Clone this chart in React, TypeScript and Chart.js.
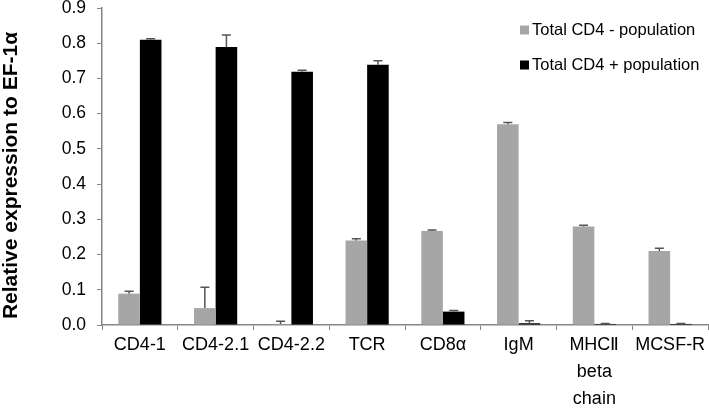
import React, { useEffect, useRef } from "react";
import { Chart, registerables } from "chart.js";

Chart.register(...registerables);

const categories: (string | string[])[] = [
  "CD4-1",
  "CD4-2.1",
  "CD4-2.2",
  "TCR",
  "CD8α",
  "IgM",
  ["MHCⅡ", "beta", "chain"],
  "MCSF-R",
];

const negLabel = "Total CD4 - population";
const posLabel = "Total CD4 + population";
const yTitle = "Relative expression to EF-1α";

const negValues = [0.089, 0.048, 0.003, 0.24, 0.267, 0.57, 0.28, 0.21];
const negErrors = [0.007, 0.059, 0.008, 0.005, 0.003, 0.005, 0.003, 0.008];

const posValues = [0.81, 0.789, 0.719, 0.739, 0.038, 0.005, 0.003, 0.003];
const posErrors = [0.003, 0.034, 0.004, 0.011, 0.003, 0.007, 0.001, 0.001];

const yTicks = [0, 0.1, 0.2, 0.3, 0.4, 0.5, 0.6, 0.7, 0.8, 0.9];

const GRAY = "#a6a6a6";
const BLACK = "#000000";
const AXIS = "#868686";
const ERR = "#555555";
const FONT = "'Liberation Sans', Arial, sans-serif";

const errorBarPlugin = {
  id: "errorBars",
  afterDatasetsDraw(chart: any) {
    const ctx = chart.ctx;
    const yScale = chart.scales.y;
    chart.data.datasets.forEach((ds: any, di: number) => {
      const meta = chart.getDatasetMeta(di);
      const errs: number[] = ds.errors || [];
      meta.data.forEach((el: any, i: number) => {
        const v = ds.data[i];
        const e = errs[i] || 0;
        const yTop = yScale.getPixelForValue(v + e);
        const yBar = yScale.getPixelForValue(v);
        ctx.save();
        ctx.strokeStyle = ERR;
        ctx.lineWidth = 1.5;
        ctx.beginPath();
        ctx.moveTo(el.x, yBar);
        ctx.lineTo(el.x, yTop);
        ctx.moveTo(el.x - 4.5, yTop);
        ctx.lineTo(el.x + 4.5, yTop);
        ctx.stroke();
        ctx.restore();
      });
    });
  },
};

const legendPlugin = {
  id: "customLegend",
  afterDraw(chart: any) {
    const ctx = chart.ctx;
    const area = chart.chartArea;
    const x0 = area.right - 189;
    const rows = [
      { y: area.top + 22, color: GRAY, label: chart.data.datasets[0].label },
      { y: area.top + 57, color: BLACK, label: chart.data.datasets[1].label },
    ];
    ctx.save();
    ctx.font = `16.5px ${FONT}`;
    ctx.textBaseline = "middle";
    ctx.textAlign = "left";
    rows.forEach((r) => {
      ctx.fillStyle = r.color;
      ctx.fillRect(x0 + 1, r.y - 4.5, 9, 9);
      ctx.fillStyle = "#000";
      ctx.fillText(r.label, x0 + 13, r.y);
    });
    ctx.restore();
  },
};

const yTitlePlugin = {
  id: "yTitle",
  afterDraw(chart: any) {
    const ctx = chart.ctx;
    const area = chart.chartArea;
    ctx.save();
    ctx.translate(11, (area.top + area.bottom) / 2 + 9);
    ctx.rotate(-Math.PI / 2);
    ctx.font = `bold 21px ${FONT}`;
    ctx.fillStyle = "#000";
    ctx.textAlign = "center";
    ctx.textBaseline = "middle";
    ctx.fillText(yTitle, 0, 0);
    ctx.restore();
  },
};

export default function App() {
  const ref = useRef<HTMLCanvasElement | null>(null);

  useEffect(() => {
    if (!ref.current) return;
    const chart = new Chart(ref.current, {
      type: "bar",
      data: {
        labels: categories as any,
        datasets: [
          {
            label: negLabel,
            data: negValues,
            errors: negErrors,
            backgroundColor: GRAY,
            categoryPercentage: 0.57,
            barPercentage: 1,
          } as any,
          {
            label: posLabel,
            data: posValues,
            errors: posErrors,
            backgroundColor: BLACK,
            categoryPercentage: 0.57,
            barPercentage: 1,
          } as any,
        ],
      },
      options: {
        responsive: false,
        animation: false,
        devicePixelRatio: 1,
        layout: { padding: { top: 8, right: 1, left: 0, bottom: 0 } },
        plugins: {
          legend: { display: false },
          tooltip: { enabled: false },
        },
        scales: {
          x: {
            grid: {
              display: true,
              drawOnChartArea: false,
              drawTicks: true,
              tickLength: 5,
              color: AXIS,
              offset: true,
            },
            border: { display: true, color: AXIS, width: 1.5 },
            ticks: {
              color: "#000",
              font: { family: FONT, size: 18, lineHeight: 1.5 },
              padding: 2,
              maxRotation: 0,
              autoSkip: false,
            },
            afterFit(scale: any) {
              scale.height = 84;
              scale.paddingLeft = 0;
              scale.paddingRight = 0;
            },
          },
          y: {
            min: 0,
            max: 0.9,
            afterBuildTicks(scale: any) {
              scale.ticks = yTicks.map((v) => ({ value: v }));
            },
            grid: {
              display: true,
              drawOnChartArea: false,
              drawTicks: true,
              tickLength: 5,
              color: AXIS,
            },
            border: { display: true, color: AXIS, width: 1.5 },
            ticks: {
              color: "#000",
              font: { family: FONT, size: 17.5 },
              padding: 11,
              callback: (v: any) => Number(v).toFixed(1),
            },
            title: { display: false },
            afterFit(scale: any) {
              scale.width = 102;
              scale.paddingTop = 0;
              scale.paddingBottom = 0;
            },
          },
        },
      },
      plugins: [errorBarPlugin, legendPlugin, yTitlePlugin],
    });
    return () => chart.destroy();
  }, []);

  return (
    <div style={{ position: "absolute", left: 0, top: 0, width: 709, height: 409, background: "#fff" }}>
      <canvas ref={ref} width={709} height={409} />
    </div>
  );
}
